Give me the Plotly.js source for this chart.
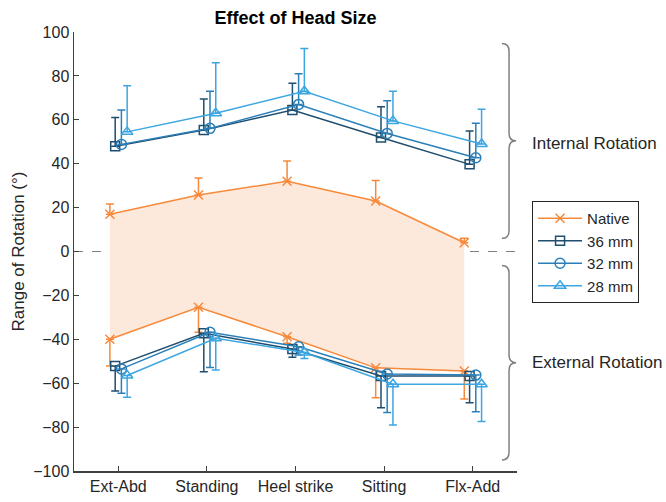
<!DOCTYPE html>
<html>
<head>
<meta charset="utf-8">
<script src="https://cdn.plot.ly/plotly-3.0.1.min.js"></script>
<style>html,body{margin:0;padding:0;background:#fff;}#chart{width:666px;height:502px;}</style>
</head>
<body>
<div id="chart"></div>
<script>
// ---- data ----
const categories = ['Ext-Abd', 'Standing', 'Heel strike', 'Sitting', 'Flx-Add'];
const seriesNames = ['Native', '36 mm', '32 mm', '28 mm'];

// internal rotation (positive) means and upper SD
const nativeIR = [17, 25.7, 32, 23, 4];
const nativeIRErr = [4.6, 7.8, 9.2, 9.3, 2];
const mm36IR = [48, 55.3, 64.5, 51.9, 39.7];
const mm36IRErr = [13, 14.2, 12.1, 14.1, 15.2];
const mm32IR = [48.8, 56.1, 67, 53.8, 42.7];
const mm32IRErr = [15.7, 16.9, 14, 14.9, 15.7];
const mm28IR = [54.5, 63, 73, 59.5, 49];
const mm28IRErr = [21, 23, 19.5, 13.5, 15.8];

// external rotation (negative) means and lower SD
const nativeER = [-40, -25.4, -38.8, -53, -54.4];
const nativeERErr = [12.2, 11.4, 3, 13.6, 12.8];
const mm36ER = [-52.2, -37.3, -44.4, -56.7, -56.7];
const mm36ERErr = [11.4, 17.5, 3.8, 14.5, 12.2];
const mm32ER = [-53.5, -36.8, -43.4, -55.8, -56.3];
const mm32ERErr = [11.1, 16.1, 3.8, 17.6, 16.7];
const mm28ER = [-56.5, -39.5, -46, -60.5, -60.5];
const mm28ERErr = [9.9, 14.5, 2.7, 18.5, 17];

// ---- styling ----
const colors = ['#f7893b', '#1f4e6e', '#2b7fb8', '#3ba6e2'];
const symbols = ['x-thin-open', 'square-open', 'circle-open', 'triangle-up-open'];
const msizes = [9, 9, 10, 10];
const offsets = [-0.095, -0.035, 0.035, 0.1];
const FONT = 'Liberation Sans, Arial, Helvetica, sans-serif';

const irSets = [[nativeIR, nativeIRErr], [mm36IR, mm36IRErr], [mm32IR, mm32IRErr], [mm28IR, mm28IRErr]];
const erSets = [[nativeER, nativeERErr], [mm36ER, mm36ERErr], [mm32ER, mm32ERErr], [mm28ER, mm28ERErr]];

const idx = categories.map((c, i) => i + 1);
const traces = [];

// native shaded band
const nx = idx.map(v => v + offsets[0]);
traces.push({
  x: nx.concat(nx.slice().reverse()),
  y: nativeIR.concat(nativeER.slice().reverse()),
  fill: 'toself', fillcolor: '#fde9db',
  line: {width: 0}, mode: 'lines', hoverinfo: 'skip', showlegend: false
});

seriesNames.forEach((name, s) => {
  const xs = idx.map(v => v + offsets[s]);
  const [ir, irE] = irSets[s];
  const [er, erE] = erSets[s];
  traces.push({
    name: name,
    x: xs.concat([null], xs),
    y: ir.concat([null], er),
    mode: 'lines+markers',
    connectgaps: false,
    line: {color: colors[s], width: 1.5},
    marker: {symbol: symbols[s], size: msizes[s], color: colors[s], line: {color: colors[s], width: 1.5}},
    error_y: {
      type: 'data', symmetric: false,
      array: irE.concat([0], er.map(() => 0)),
      arrayminus: ir.map(() => 0).concat([0], erE),
      color: colors[s], thickness: 1.5, width: 4
    }
  });
});

// curly braces (data coordinates)
function brace(x0, x1, x2, yTop, yBot) {
  const mid = (yTop + yBot) / 2;
  const c = 3.5;
  return 'M' + x0 + ',' + yTop +
    ' Q' + x1 + ',' + yTop + ' ' + x1 + ',' + (yTop - c) +
    ' L' + x1 + ',' + (mid + c) +
    ' Q' + x1 + ',' + mid + ' ' + x2 + ',' + mid +
    ' Q' + x1 + ',' + mid + ' ' + x1 + ',' + (mid - c) +
    ' L' + x1 + ',' + (yBot + c) +
    ' Q' + x1 + ',' + yBot + ' ' + x0 + ',' + yBot;
}

const layout = {
  width: 666, height: 502,
  margin: {l: 74, r: 149, t: 32, b: 31, pad: 0},
  paper_bgcolor: '#fff', plot_bgcolor: '#fff',
  font: {family: FONT, color: '#262626', size: 15},
  title: {text: '<b>Effect of Head Size</b>', font: {family: FONT, size: 18, color: '#000'},
          x: 0.5, xref: 'paper', xanchor: 'center', y: 1 - 18 / 502, yref: 'container', yanchor: 'middle'},
  showlegend: true,
  legend: {x: 1.034, y: 0.615, xanchor: 'left', yanchor: 'top', bgcolor: '#fff',
           bordercolor: '#262626', borderwidth: 1, font: {family: FONT, size: 15, color: '#262626'},
           tracegroupgap: 0, itemwidth: 44},
  xaxis: {range: [0.5, 5.5], tickmode: 'array', tickvals: idx, ticktext: categories,
          ticks: 'inside', ticklen: 5, tickcolor: '#404040', tickwidth: 1,
          showline: true, linecolor: '#404040', linewidth: 1.5, showgrid: false, zeroline: false,
          tickfont: {size: 16, color: '#262626'}, automargin: false, fixedrange: true},
  yaxis: {range: [-100, 100], dtick: 20, tick0: 0,
          ticks: 'inside', ticklen: 5, tickcolor: '#404040', tickwidth: 1,
          showline: true, linecolor: '#404040', linewidth: 1.5, showgrid: false, zeroline: false,
          tickfont: {size: 16, color: '#262626'}, automargin: false, fixedrange: true,
          title: {text: 'Range of Rotation (°)', font: {size: 17, color: '#262626'}, standoff: 4}},
  shapes: [
    {type: 'line', xref: 'paper', x0: 0, x1: 1, yref: 'y', y0: 0, y1: 0,
     line: {color: '#808080', width: 1.2, dash: 'dash'}, layer: 'below'},
    {type: 'path', xref: 'x', yref: 'y', path: brace(5.33, 5.41, 5.49, 94.8, 6),
     line: {color: '#808080', width: 1.5}},
    {type: 'path', xref: 'x', yref: 'y', path: brace(5.33, 5.41, 5.49, -6.4, -95),
     line: {color: '#808080', width: 1.5}}
  ],
  annotations: [
    {text: 'Internal Rotation', xref: 'paper', yref: 'y', x: 1.03, y: 49.3, xanchor: 'left', yanchor: 'middle',
     showarrow: false, font: {family: FONT, size: 17, color: '#262626'}},
    {text: 'External Rotation', xref: 'paper', yref: 'y', x: 1.03, y: -50.4, xanchor: 'left', yanchor: 'middle',
     showarrow: false, font: {family: FONT, size: 17, color: '#262626'}}
  ]
};

Plotly.newPlot('chart', traces, layout, {displayModeBar: false, staticPlot: true});
</script>
</body>
</html>
